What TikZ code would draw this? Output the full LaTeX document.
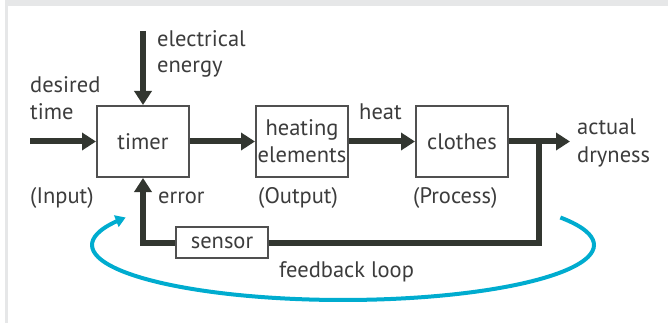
\documentclass[tikz,border=0pt]{standalone}
\usepackage{fontspec}
\setmainfont{PT Sans}
\usetikzlibrary{arrows.meta}
\definecolor{ink}{RGB}{50,54,48}
\definecolor{txt}{RGB}{60,60,60}
\definecolor{boxc}{RGB}{80,80,80}
\definecolor{loopc}{RGB}{0,172,207}
\definecolor{framec}{RGB}{230,231,232}
\tikzset{
  blk/.style={draw=boxc, line width=2pt, fill=white, inner sep=0pt, minimum width=92pt, minimum height=71pt, align=center},
  flow/.style={draw=ink, line width=6pt, -{Triangle[length=14pt,width=17pt]}},
  plain/.style={draw=ink, line width=6pt},
  lbl/.style={anchor=base west, inner sep=0pt},
  fb/.style={draw=loopc, line width=4pt, -{Triangle[length=10pt,width=12pt]}}
}
\begin{document}
\begin{tikzpicture}[x=1pt,y=-1pt, font=\fontsize{22.5}{27}\selectfont, text=txt]
\useasboundingbox (0,0) rectangle (668,323);
\fill[framec] (5,0) rectangle (668,6);
\fill[framec] (5,0) rectangle (8,323);

\node[blk] (timer) at (143,141.5) {timer};
\node[blk] (heat) at (302,141.5) {heating\\elements};
\node[blk] (clothes) at (462,141.5) {clothes};
\node[blk, minimum width=92pt, minimum height=31pt] (sensor) at (222,242.5) {sensor};

\coordinate (din) at (30,141.5);
\coordinate (ein) at (143,31);
\coordinate (dry) at (570,141.5);
\coordinate (junc) at (539,141.5);

\draw[flow] (din) -- (timer.west);
\draw[flow] (ein) -- (timer.north);
\draw[flow] (timer.east) -- (heat.west);
\draw[flow] (heat.east) -- (clothes.west);
\draw[flow] (clothes.east) -- (dry);
\draw[plain] (junc) |- (sensor.east);
\draw[flow] (sensor.west) -| (timer.south);

\node[lbl] (lelec) at (157,47) {electrical};
\node[lbl] (lener) at (157,73) {energy};
\node[lbl] (ldes) at (30,93) {desired};
\node[lbl] (ltime) at (30,120) {time};
\node[lbl] (lheat) at (359,120) {heat};
\node[lbl] (lact) at (577,135) {actual};
\node[lbl] (ldry) at (577,162) {dryness};
\node[lbl] (linp) at (30,203) {(Input)};
\node[lbl] (lerr) at (158,203) {error};
\node[lbl] (lout) at (258,203) {(Output)};
\node[lbl] (lproc) at (413,203) {(Process)};
\node[lbl] (lfb) at (279,277) {feedback loop};

\draw[fb] plot[smooth, domain=-30:210, samples=80] ({343+251*cos(\x)},{245+55*sin(\x)});
\end{tikzpicture}
\end{document}
